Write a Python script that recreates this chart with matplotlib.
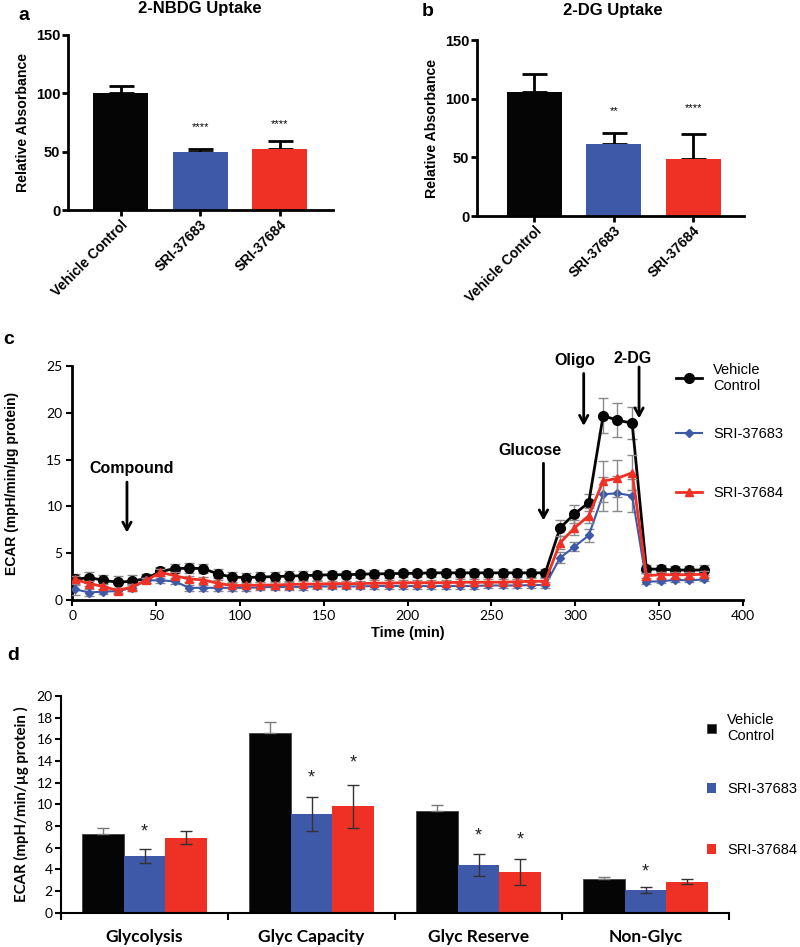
import numpy as np
import matplotlib as mpl
mpl.use('Agg')
import matplotlib.pyplot as plt

ARIAL = 'Liberation Sans'
CAL = 'Lato'
W, H = 800, 947

BLACK = '#050505'
BLUE = '#3d59a8'
RED = '#ee3124'

# panel a / b data
groups = ['Vehicle Control', 'SRI-37683', 'SRI-37684']
nbdg_vals = [100, 50, 52]
nbdg_err = [6.5, 2.5, 7.5]
nbdg_stars = ['', '****', '****']
nbdg_star_y = [0, 71, 74]
dg_vals = [106, 61, 49]
dg_err = [15, 9.5, 20.5]
dg_stars = ['', '**', '****']
dg_star_y = [0, 89, 92]

# panel c data (ECAR time course)
times = [1.6, 10.1, 18.6, 27.1, 35.6, 44.1, 52.6, 61.1, 69.6, 78.1, 86.6, 95.1,
         103.6, 112.1, 120.6, 129.1, 137.6, 146.1, 154.6, 163.1, 171.6, 180.1,
         188.6, 197.1, 205.6, 214.1, 222.6, 231.1, 239.6, 248.1, 256.6, 265.1,
         273.6, 282.1, 290.9, 299.5, 308.0, 316.6, 325.1, 333.9, 342.4, 350.9,
         359.5, 368.0, 376.6]
veh_ecar = [2.2, 2.4, 2.1, 1.9, 2.0, 2.3, 3.05, 3.35, 3.4, 3.35, 2.8, 2.45, 2.4,
            2.45, 2.5, 2.55, 2.6, 2.65, 2.7, 2.7, 2.75, 2.8, 2.8,
            2.85, 2.85, 2.9, 2.9, 2.9, 2.9, 2.9, 2.9, 2.9, 2.9, 2.9,
            7.7, 9.2, 10.4, 19.7, 19.2, 18.9, 3.3, 3.3, 3.2, 3.2, 3.2]
veh_ecar_err = [0.6, 0.6, 0.6, 0.7, 0.7, 0.5, 0.5, 0.5, 0.5, 0.5, 0.5, 0.5, 0.5,
                0.5, 0.5, 0.5, 0.5, 0.5, 0.4, 0.4, 0.4, 0.4, 0.4,
                0.4, 0.4, 0.4, 0.4, 0.4, 0.4, 0.4, 0.4, 0.4, 0.4, 0.4,
                0.9, 1.0, 0.9, 1.9, 1.8, 1.7, 0.4, 0.4, 0.4, 0.4, 0.5]
s83_ecar = [1.15, 0.8, 0.9, 0.95, 1.3, 2.1, 2.1, 2.0, 1.3, 1.3, 1.3, 1.3, 1.3,
            1.35, 1.4, 1.4, 1.4, 1.45, 1.45, 1.45, 1.45, 1.5, 1.5,
            1.5, 1.5, 1.5, 1.5, 1.5, 1.5, 1.55, 1.55, 1.55, 1.6, 1.6,
            4.5, 5.7, 6.9, 11.3, 11.4, 11.15, 1.95, 2.0, 2.15, 2.1, 2.2]
s83_ecar_err = [0.6, 0.4, 0.3, 0.3, 0.3, 0.3, 0.3, 0.3, 0.3, 0.3, 0.3, 0.3, 0.3,
                0.3, 0.3, 0.3, 0.3, 0.3, 0.3, 0.3, 0.3, 0.3, 0.3,
                0.3, 0.3, 0.3, 0.3, 0.3, 0.3, 0.3, 0.3, 0.3, 0.3, 0.3,
                0.6, 0.5, 0.7, 1.8, 1.9, 1.8, 0.2, 0.2, 0.2, 0.2, 0.2]
s84_ecar = [2.2, 1.75, 1.45, 1.0, 1.4, 2.1, 2.95, 2.6, 2.25, 2.15, 1.8, 1.55, 1.55,
            1.6, 1.6, 1.65, 1.7, 1.7, 1.75, 1.75, 1.75, 1.8, 1.8,
            1.85, 1.85, 1.85, 1.85, 1.9, 1.9, 1.9, 1.9, 1.95, 2.0, 2.0,
            6.1, 7.7, 9.0, 12.7, 13.0, 13.6, 2.6, 2.7, 2.7, 2.7, 2.75]
s84_ecar_err = [0.4, 0.3, 0.3, 0.3, 0.3, 0.3, 0.4, 0.4, 0.3, 0.3, 0.3, 0.3, 0.3,
                0.3, 0.3, 0.3, 0.3, 0.3, 0.3, 0.3, 0.3, 0.3, 0.3,
                0.3, 0.3, 0.3, 0.3, 0.3, 0.3, 0.3, 0.3, 0.3, 0.3, 0.3,
                0.7, 0.8, 0.8, 2.2, 2.0, 1.9, 0.3, 0.3, 0.3, 0.3, 0.3]
injections = ['Compound', 'Glucose', 'Oligo', '2-DG']
inj_time = [32.6, 281, 305, 338]

# panel d data
params = ['Glycolysis', 'Glyc Capacity', 'Glyc Reserve', 'Non-Glyc']
veh_par = [7.25, 16.6, 9.4, 3.1]
veh_par_err = [0.55, 1.0, 0.55, 0.2]
s83_par = [5.2, 9.1, 4.4, 2.07]
s83_par_err = [0.65, 1.55, 1.0, 0.27]
s84_par = [6.9, 9.8, 3.7, 2.83]
s84_par_err = [0.6, 1.95, 1.2, 0.23]
s83_star_y = [7.4, 12.4, 7.1, 3.7]
s84_star_y = [None, 13.85, 6.7, None]


def px_rect(l, t, r, b):
    return [l / W, 1 - b / H, (r - l) / W, (b - t) / H]


fig = plt.figure(figsize=(8, 9.47), dpi=100)


def uptake_panel(rect, vals, errs, stars, star_y, xlim, title, title_xy):
    ax = fig.add_axes(px_rect(*rect))
    x = np.arange(len(vals))
    ax.bar(x, vals, width=0.69, color=[BLACK, BLUE, RED], zorder=2)
    ax.errorbar(x, vals, yerr=[np.zeros(len(vals)), errs], fmt='none', ecolor='black',
                elinewidth=2, capsize=9, capthick=2, zorder=1)
    for xi, s, sy in zip(x, stars, star_y):
        if s:
            ax.text(xi, sy, s, ha='center', va='center', fontsize=8, family=ARIAL)
    ax.set_xlim(*xlim)
    ax.set_ylim(0, 150)
    ax.set_yticks([0, 50, 100, 150])
    ax.set_xticks(x)
    ax.set_xticklabels(groups, rotation=45, ha='right', va='top', rotation_mode='anchor',
                       family=ARIAL, weight='bold', fontsize=10)
    for lab in ax.get_yticklabels():
        lab.set_family(ARIAL)
        lab.set_weight('bold')
        lab.set_fontsize(10.5)
    for s in ['top', 'right']:
        ax.spines[s].set_visible(False)
    for s in ['left', 'bottom']:
        ax.spines[s].set_linewidth(2)
    ax.tick_params(direction='out', length=4, width=2, pad=1.5)
    ax.set_ylabel('Relative Absorbance', family=ARIAL, weight='bold', fontsize=10.2, labelpad=4)
    fig.text(title_xy[0] / W, 1 - title_xy[1] / H, title, ha='center', va='center',
             family=ARIAL, weight='bold', fontsize=12)
    return ax


uptake_panel((68, 35, 333, 210), nbdg_vals, nbdg_err, nbdg_stars, nbdg_star_y,
             (-0.66, 2.67), '2-NBDG Uptake', (200, 9))
uptake_panel((477, 40, 744, 216), dg_vals, dg_err, dg_stars, dg_star_y,
             (-0.72, 2.64), '2-DG Uptake', (613, 11))

# panel c
axc = fig.add_axes(px_rect(72.3, 366, 743, 600))
series = [
    (veh_ecar, veh_ecar_err, BLACK, 'o', 7, 2.0, 'Vehicle\nControl', 3),
    (s83_ecar, s83_ecar_err, BLUE, 'D', 3.8, 1.5, 'SRI-37683', 4),
    (s84_ecar, s84_ecar_err, RED, '^', 5.5, 2.0, 'SRI-37684', 5),
]
c_handles = []
for vals, errs, col, mk, ms, lw, lab, z in series:
    axc.errorbar(times, vals, yerr=errs, fmt='none', ecolor='#8a8a8a', elinewidth=1,
                 capsize=3.5, capthick=1, zorder=z - 0.5)
    ln, = axc.plot(times, vals, color=col, marker=mk, ms=ms, lw=lw, zorder=z, label=lab)
    c_handles.append(ln)
axc.set_xlim(0, 400)
axc.set_ylim(0, 25)
axc.set_xticks(np.arange(0, 401, 50))
axc.set_yticks(np.arange(0, 26, 5))
for s in ['top', 'right']:
    axc.spines[s].set_visible(False)
for s in ['left', 'bottom']:
    axc.spines[s].set_linewidth(2)
axc.tick_params(direction='out', length=4, width=1.5, labelsize=10, pad=3)
for lab in axc.get_xticklabels() + axc.get_yticklabels():
    lab.set_family(CAL)
axc.set_xlabel('Time (min)', family=ARIAL, weight='bold', fontsize=10.5, labelpad=3)
axc.set_ylabel('ECAR (mpH/min/µg protein)', family=ARIAL, weight='bold', fontsize=10, labelpad=20)

# injection arrows: (text x, text y, arrow top, arrow bottom)
inj_text = [(35.3, 14.0), (272.8, 15.95), (299.6, 25.6), (334.4, 25.8)]
inj_arrow = [(12.6, 7.2), (14.6, 8.5), (24.2, 18.6), (24.9, 19.4)]
for name, t, (tx, ty), (y0, y1) in zip(injections, inj_time, inj_text, inj_arrow):
    axc.text(tx, ty, name, ha='center', va='center', family=ARIAL, weight='bold',
             fontsize=11.5, clip_on=False)
    axc.annotate('', xy=(t, y1), xytext=(t, y0), annotation_clip=False,
                 arrowprops=dict(arrowstyle='->,head_length=0.55,head_width=0.3', lw=2,
                                 color='black', shrinkA=0, shrinkB=0))

for h, ypx in zip(c_handles, [378, 434, 493]):
    fig.legend([h], [h.get_label()], loc='center left', bbox_to_anchor=(676 / W, 1 - ypx / H),
               frameon=False, borderpad=0, borderaxespad=0, handlelength=1.8,
               handletextpad=0.75, prop={'family': ARIAL, 'size': 10.5})

# panel d
axd = fig.add_axes(px_rect(61, 696, 729, 912.5))
xd = np.arange(len(params))
bw = 0.25
b1 = axd.bar(xd - bw, veh_par, width=bw, color=BLACK, edgecolor='#444444', lw=0.6, zorder=2,
             label='Vehicle\nControl')
b2 = axd.bar(xd, s83_par, width=bw, color=BLUE, zorder=2, label='SRI-37683')
b3 = axd.bar(xd + bw, s84_par, width=bw, color=RED, zorder=2, label='SRI-37684')
axd.errorbar(xd - bw, veh_par, yerr=[np.zeros(len(xd)), veh_par_err], fmt='none',
             ecolor='#7a7a7a', elinewidth=1, capsize=4, capthick=1, zorder=3)
axd.errorbar(xd, s83_par, yerr=s83_par_err, fmt='none', ecolor='#333333', elinewidth=1,
             capsize=4, capthick=1, zorder=3)
axd.errorbar(xd + bw, s84_par, yerr=s84_par_err, fmt='none', ecolor='#333333', elinewidth=1,
             capsize=4, capthick=1, zorder=3)
for xi, sy in zip(xd, s83_star_y):
    if sy is not None:
        axd.text(xi, sy, '*', ha='center', va='center', fontsize=13, family=ARIAL, color='#222222')
for xi, sy in zip(xd, s84_star_y):
    if sy is not None:
        axd.text(xi + bw, sy, '*', ha='center', va='center', fontsize=13, family=ARIAL,
                 color='#222222')
axd.set_xlim(-0.5, 3.5)
axd.set_ylim(0, 20)
axd.set_yticks(np.arange(0, 21, 2))
axd.set_xticks(np.arange(-0.5, 3.6, 1.0))
axd.set_xticklabels([])
axd.set_xticks(xd, minor=True)
axd.set_xticklabels(params, minor=True, family=CAL, weight='bold', fontsize=12.5)
axd.tick_params(axis='x', which='minor', length=0, pad=12)
axd.tick_params(axis='x', which='major', direction='out', length=5, width=1.5)
axd.tick_params(axis='y', direction='out', length=4, width=1.5, labelsize=10, pad=2)
for lab in axd.get_yticklabels():
    lab.set_family(CAL)
for s in ['top', 'right']:
    axd.spines[s].set_visible(False)
for s in ['left', 'bottom']:
    axd.spines[s].set_linewidth(1.5)
axd.set_ylabel('ECAR (mpH/min/µg protein )', family=CAL, weight='bold', fontsize=10.8, labelpad=5)

for bc, ypx in zip([b1, b2, b3], [728, 789, 850]):
    fig.legend([bc.patches[0]], [bc.get_label()], loc='center left',
               bbox_to_anchor=(707 / W, 1 - ypx / H), frameon=False, borderpad=0,
               borderaxespad=0, handlelength=0.65, handleheight=0.65, handletextpad=0.75,
               prop={'family': ARIAL, 'size': 10.5})

# panel letters
for letter, (lx, ly) in zip('abcd', [(24, 15), (428, 12), (9, 339), (13, 656)]):
    fig.text(lx / W, 1 - ly / H, letter, ha='center', va='center', family=ARIAL,
             weight='bold', fontsize=14)

fig.savefig('out.png', dpi=100)
